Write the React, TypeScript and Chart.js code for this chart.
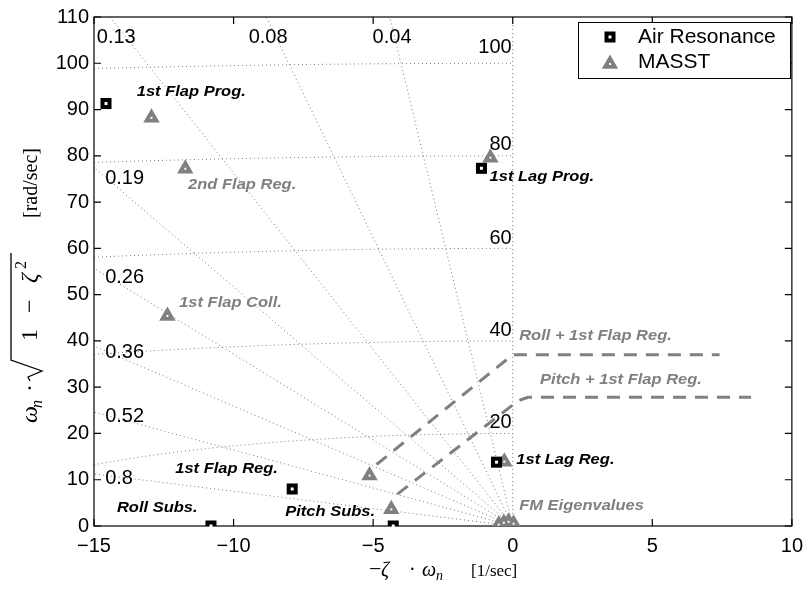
import React, { useEffect, useRef } from 'react';
import { Chart, registerables } from 'chart.js';

Chart.register(...registerables);

// ---- axes ----
const X_MIN = -15;
const X_MAX = 10;
const Y_MIN = 0;
const Y_MAX = 110;
const xTickValues = [-15, -10, -5, 0, 5, 10];
const yTickValues = [0, 10, 20, 30, 40, 50, 60, 70, 80, 90, 100, 110];

// ---- series: Air Resonance (black squares) ----
const airResonanceX = [-14.57, -1.12, -0.58, -7.9, -10.81, -4.28];
const airResonanceY = [91.3, 77.3, 13.8, 8.0, 0.0, 0.0];

// ---- series: MASST (grey triangles) ----
const masstX = [-12.94, -11.73, -12.37, -0.8, -0.3, -5.13, -4.35, -0.5, -0.32, -0.15, 0.03];
const masstY = [88.2, 77.2, 45.4, 79.6, 13.9, 10.9, 3.6, 0.3, 0.7, 0.9, 0.5];

// ---- dashed paths ----
const rollPathX = [-4.88, 0.0, 7.41];
const rollPathY = [13.3, 37.0, 37.0];
const pitchPathX = [-4.13, 0.2, 0.55, 8.54];
const pitchPathY = [6.9, 27.1, 27.8, 27.8];

// ---- s-plane grid (damping rays, natural-frequency circles) ----
const dampingRatios = [0.8, 0.52, 0.36, 0.26, 0.19, 0.13, 0.08, 0.04];
const naturalFreqs = [20, 40, 60, 80, 100];

const dampingLabelText = ['0.13', '0.08', '0.04', '0.19', '0.26', '0.36', '0.52', '0.8'];
const dampingLabelX = [-14.9, -9.46, -5.02, -14.6, -14.6, -14.6, -14.6, -14.6];
const dampingLabelY = [105.5, 105.5, 105.5, 75.1, 53.8, 37.5, 23.7, 10.3];

const freqLabelText = ['100', '80', '60', '40', '20'];
const freqLabelY = [103.5, 82.4, 62.2, 42.2, 22.4];

// ---- annotations ----
const noteText = [
  '1st Flap Prog.', '2nd Flap Reg.', '1st Flap Coll.', '1st Flap Reg.', 'Roll Subs.', 'Pitch Subs.',
  '1st Lag Prog.', '1st Lag Reg.', 'FM Eigenvalues', 'Roll + 1st Flap Reg.', 'Pitch + 1st Flap Reg.',
];
const noteX = [-13.47, -11.63, -11.95, -12.09, -14.18, -8.15, -0.83, 0.13, 0.23, 0.23, 0.98];
const noteY = [93.9, 73.8, 48.2, 12.3, 3.9, 3.0, 75.4, 14.2, 4.3, 41.1, 31.6];
const noteGrey = [false, true, true, false, false, false, false, false, true, true, true];

const seriesNames = ['Air Resonance', 'MASST'];

const GREY = '#808080';
const SANS = '"Liberation Sans", Arial, Helvetica, sans-serif';
const SERIF = '"Liberation Serif", "Times New Roman", serif';

const pts = (xs: number[], ys: number[]) => xs.map((x, i) => ({ x, y: ys[i] }));
const fmt = (v: any) => String(v).replace('-', '\u2212');

function drawSquare(ctx: CanvasRenderingContext2D, x: number, y: number) {
  ctx.fillStyle = '#000';
  ctx.fillRect(x - 5.5, y - 5.5, 11, 11);
  ctx.fillStyle = '#fff';
  ctx.fillRect(x - 1.5, y - 1.5, 3, 3);
}
function drawTriangle(ctx: CanvasRenderingContext2D, x: number, y: number, r: number) {
  ctx.fillStyle = GREY;
  ctx.beginPath();
  ctx.moveTo(x, y - r);
  ctx.lineTo(x + r * 0.866, y + r * 0.5);
  ctx.lineTo(x - r * 0.866, y + r * 0.5);
  ctx.closePath();
  ctx.fill();
}

const customPlugin = {
  id: 'custom',
  beforeDraw(chart: any) {
    const ctx = chart.ctx;
    ctx.save();
    ctx.fillStyle = '#fff';
    ctx.fillRect(0, 0, chart.width, chart.height);
    ctx.restore();
  },
  beforeDatasetsDraw(chart: any) {
    const { ctx, chartArea: a, scales } = chart;
    const xs = scales.x;
    const ys = scales.y;
    const px = (v: number) => xs.getPixelForValue(v);
    const py = (v: number) => ys.getPixelForValue(v);
    ctx.save();
    ctx.beginPath();
    ctx.rect(a.left, a.top, a.right - a.left, a.bottom - a.top);
    ctx.clip();
    ctx.setLineDash([1, 3]);
    ctx.strokeStyle = '#7a7a7a';
    ctx.lineWidth = 1;
    // damping rays
    for (const z of dampingRatios) {
      const s = Math.sqrt(1 - z * z) / z;
      let xe = X_MIN;
      let ye = -X_MIN * s;
      if (ye > Y_MAX) {
        ye = Y_MAX;
        xe = -Y_MAX / s;
      }
      ctx.beginPath();
      ctx.moveTo(px(0), py(0));
      ctx.lineTo(px(xe), py(ye));
      ctx.stroke();
    }
    // zeta = 0 (imaginary axis)
    ctx.beginPath();
    ctx.moveTo(px(0), py(0));
    ctx.lineTo(px(0), py(Y_MAX));
    ctx.stroke();
    // natural frequency circles
    for (const w of naturalFreqs) {
      const x0 = Math.max(-w, X_MIN);
      ctx.beginPath();
      const n = 120;
      for (let i = 0; i <= n; i++) {
        const xv = x0 + ((0 - x0) * i) / n;
        const yv = Math.sqrt(Math.max(0, w * w - xv * xv));
        if (i === 0) ctx.moveTo(px(xv), py(yv));
        else ctx.lineTo(px(xv), py(yv));
      }
      ctx.stroke();
    }
    ctx.restore();

    // grid labels
    ctx.save();
    ctx.fillStyle = '#000';
    ctx.font = `20px ${SANS}`;
    ctx.textBaseline = 'middle';
    ctx.textAlign = 'left';
    dampingLabelText.forEach((t, i) => {
      ctx.fillText(t, px(dampingLabelX[i]), py(dampingLabelY[i]));
    });
    ctx.textAlign = 'right';
    freqLabelText.forEach((t, i) => {
      ctx.fillText(t, px(0) - 1, py(freqLabelY[i]));
    });
    ctx.restore();

    // box and inward ticks
    ctx.save();
    ctx.strokeStyle = '#000';
    ctx.lineWidth = 1.2;
    ctx.strokeRect(a.left, a.top, a.right - a.left, a.bottom - a.top);
    ctx.beginPath();
    const tl = 7;
    for (const v of xTickValues) {
      const p = px(v);
      ctx.moveTo(p, a.bottom);
      ctx.lineTo(p, a.bottom - tl);
      ctx.moveTo(p, a.top);
      ctx.lineTo(p, a.top + tl);
    }
    for (const v of yTickValues) {
      const p = py(v);
      ctx.moveTo(a.left, p);
      ctx.lineTo(a.left + tl, p);
      ctx.moveTo(a.right, p);
      ctx.lineTo(a.right - tl, p);
    }
    ctx.stroke();
    ctx.restore();
  },
  afterDatasetsDraw(chart: any) {
    const { ctx, scales } = chart;
    const xs = scales.x;
    const ys = scales.y;
    const px = (v: number) => xs.getPixelForValue(v);
    const py = (v: number) => ys.getPixelForValue(v);
    ctx.save();
    // white centre dots
    ctx.fillStyle = '#fff';
    const m0 = chart.getDatasetMeta(0);
    m0.data.forEach((el: any) => ctx.fillRect(el.x - 1.5, el.y - 1.5, 3, 3));
    const m1 = chart.getDatasetMeta(1);
    m1.data.forEach((el: any) => ctx.fillRect(el.x - 1, el.y - 1, 2, 2));

    // annotations
    ctx.textBaseline = 'middle';
    ctx.textAlign = 'left';
    ctx.font = `italic bold 15px ${SANS}`;
    noteText.forEach((t, i) => {
      ctx.save();
      ctx.fillStyle = noteGrey[i] ? GREY : '#000';
      ctx.translate(px(noteX[i]), py(noteY[i]));
      ctx.scale(1.1, 1);
      ctx.fillText(t, 0, 0);
      ctx.restore();
    });

    // legend
    const lx = 578, ly = 22, lw = 212, lh = 56;
    ctx.fillStyle = '#fff';
    ctx.fillRect(lx, ly, lw, lh);
    ctx.strokeStyle = '#000';
    ctx.lineWidth = 1;
    ctx.strokeRect(lx + 0.5, ly + 0.5, lw, lh);
    drawSquare(ctx, 610, 37);
    drawTriangle(ctx, 610, 64, 9.5);
    ctx.fillStyle = '#fff';
    ctx.fillRect(609, 63, 2, 2);
    ctx.fillStyle = '#000';
    ctx.font = `20px ${SANS}`;
    ctx.textBaseline = 'middle';
    seriesNames.forEach((t, i) => {
      ctx.save();
      ctx.translate(638, 37 + i * 25);
      ctx.scale(1.05, 1);
      ctx.fillText(t, 0, 0);
      ctx.restore();
    });

    // x axis title: −ζ · ω_n  [1/sec]
    ctx.textBaseline = 'alphabetic';
    ctx.fillStyle = '#000';
    const xb = 576;
    ctx.font = `22px ${SERIF}`;
    ctx.fillText('\u2212', 369, xb);
    ctx.font = `italic 20px ${SERIF}`;
    ctx.fillText('\u03b6', 381, xb);
    ctx.font = `20px ${SERIF}`;
    ctx.fillText('\u00b7', 409, xb);
    ctx.font = `italic 20px ${SERIF}`;
    ctx.fillText('\u03c9', 422, xb);
    ctx.font = `italic 14px ${SERIF}`;
    ctx.fillText('n', 436, xb + 4);
    ctx.font = `17px ${SERIF}`;
    ctx.fillText('[1/sec]', 471, xb);

    // y axis title: ω_n · sqrt(1 − ζ²)  [rad/sec]
    ctx.save();
    ctx.translate(37, 423);
    ctx.rotate(-Math.PI / 2);
    ctx.font = `italic 24px ${SERIF}`;
    ctx.fillText('\u03c9', 0, 0);
    ctx.font = `italic 16px ${SERIF}`;
    ctx.fillText('n', 15, 5);
    ctx.font = `24px ${SERIF}`;
    ctx.fillText('\u00b7', 31, 0);
    ctx.beginPath();
    ctx.lineWidth = 1.3;
    ctx.strokeStyle = '#000';
    ctx.moveTo(42, -7);
    ctx.lineTo(46, -9);
    ctx.lineTo(52, 5);
    ctx.lineTo(63, -26);
    ctx.lineTo(170, -26);
    ctx.stroke();
    ctx.font = `24px ${SERIF}`;
    ctx.fillText('1', 82, 0);
    ctx.fillText('\u2212', 110, 0);
    ctx.font = `italic 24px ${SERIF}`;
    ctx.fillText('\u03b6', 140, 0);
    ctx.font = `16px ${SERIF}`;
    ctx.fillText('2', 154, -11);
    ctx.font = `20px ${SERIF}`;
    ctx.fillText('[rad/sec]', 205, 0);
    ctx.restore();

    ctx.restore();
  },
};

export default function App() {
  const ref = useRef<HTMLCanvasElement>(null);
  useEffect(() => {
    const canvas = ref.current;
    if (!canvas) return;
    const chart = new Chart(canvas, {
      type: 'scatter',
      data: {
        datasets: [
          {
            label: seriesNames[0],
            data: pts(airResonanceX, airResonanceY),
            pointStyle: 'rect',
            pointRadius: 7.8,
            backgroundColor: '#000',
            borderColor: '#000',
            borderWidth: 0,
          },
          {
            label: seriesNames[1],
            data: pts(masstX, masstY),
            pointStyle: 'triangle',
            pointRadius: 9.5,
            backgroundColor: GREY,
            borderColor: GREY,
            borderWidth: 0,
          },
          {
            label: 'Roll + 1st Flap Reg.',
            data: pts(rollPathX, rollPathY),
            showLine: true,
            pointRadius: 0,
            borderColor: GREY,
            borderWidth: 3,
            borderDash: [13, 9],
            tension: 0,
            fill: false,
          },
          {
            label: 'Pitch + 1st Flap Reg.',
            data: pts(pitchPathX, pitchPathY),
            showLine: true,
            pointRadius: 0,
            borderColor: GREY,
            borderWidth: 3,
            borderDash: [13, 9],
            tension: 0,
            fill: false,
          },
        ],
      },
      options: {
        responsive: false,
        maintainAspectRatio: false,
        animation: false,
        layout: { padding: { left: 0, right: 13, top: 15, bottom: 0 } },
        plugins: { legend: { display: false }, tooltip: { enabled: false } },
        scales: {
          x: {
            type: 'linear',
            min: X_MIN,
            max: X_MAX,
            afterBuildTicks: (s: any) => {
              s.ticks = xTickValues.map((v) => ({ value: v }));
            },
            afterFit: (s: any) => {
              s.height = 66;
            },
            grid: { display: false, drawTicks: false },
            border: { display: false },
            ticks: {
              color: '#000',
              font: { family: SANS, size: 20 },
              padding: 8,
              maxRotation: 0,
              autoSkip: false,
              callback: fmt,
            },
          },
          y: {
            type: 'linear',
            min: Y_MIN,
            max: Y_MAX,
            afterBuildTicks: (s: any) => {
              s.ticks = yTickValues.map((v) => ({ value: v }));
            },
            afterFit: (s: any) => {
              s.width = 94;
            },
            grid: { display: false, drawTicks: false },
            border: { display: false },
            ticks: {
              color: '#000',
              font: { family: SANS, size: 20 },
              padding: 5,
              autoSkip: false,
              callback: fmt,
            },
          },
        },
      },
      plugins: [customPlugin],
    } as any);
    return () => chart.destroy();
  }, []);
  return (
    <div style={{ position: 'fixed', left: 0, top: 0, width: 811, height: 592, background: '#fff' }}>
      <canvas ref={ref} width={811} height={592} style={{ display: 'block', width: 811, height: 592 }} />
    </div>
  );
}
